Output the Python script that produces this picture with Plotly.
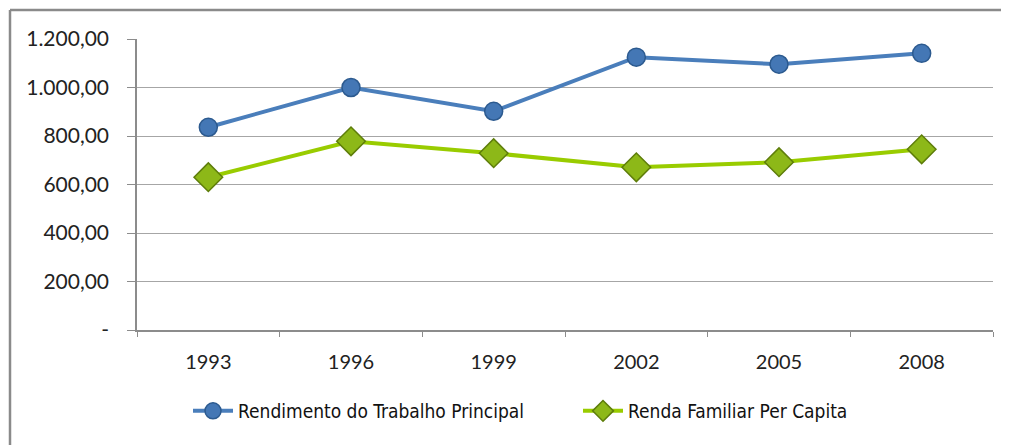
import plotly.graph_objects as go

years = ["1993", "1996", "1999", "2002", "2005", "2008"]
rendimento = [836, 1000, 902, 1125, 1096, 1141]
renda_pc = [630, 778, 729, 671, 692, 745]
y_tickvals = [0, 200, 400, 600, 800, 1000, 1200]
y_ticktext = ["-", "200,00", "400,00", "600,00", "800,00", "1.000,00", "1.200,00"]

# page body has an 8px default margin; figure is placed at (8, 8)
OFF = 8
VW, VH = 1009, 445
W, H = VW - OFF, VH - OFF
PL, PR, PT, PB = 137, 993, 39, 330   # plot area in page pixels
L, R, T, B = PL - OFF, VW - PR, PT - OFF, VH - PB
pw, ph = PR - PL, PB - PT

def px2x(px):
    return (px - PL) / pw

def py2y(py):
    return (PB - py) / ph

LEG_FONT = "Liberation Sans Narrow, DejaVu Sans Condensed, sans-serif"
TICK_FONT = "Lato, sans-serif"

fig = go.Figure()
fig.add_trace(go.Scatter(
    x=years, y=rendimento, mode="lines+markers",
    name="Rendimento do Trabalho Principal",
    line=dict(color="#4A7EBB", width=4),
    marker=dict(symbol="circle", size=18, color="#4477B5",
                line=dict(color="#2C5A8F", width=1.5)),
))
fig.add_trace(go.Scatter(
    x=years, y=renda_pc, mode="lines+markers",
    name="Renda Familiar Per Capita",
    line=dict(color="#99CC00", width=4),
    marker=dict(symbol="diamond", size=22, color="#8DB818",
                line=dict(color="#5E7D0A", width=1.5)),
))

fig.update_layout(
    width=W, height=H,
    margin=dict(l=L, r=R, t=T, b=B),
    paper_bgcolor="white", plot_bgcolor="white",
    font=dict(family=LEG_FONT, color="#222"),
    showlegend=True,
    legend=dict(orientation="h", x=px2x(188), xanchor="left", y=py2y(411), yanchor="middle",
                font=dict(size=19, family=LEG_FONT, color="#111"),
                itemwidth=40, entrywidth=335, bgcolor="rgba(0,0,0,0)"),
    xaxis=dict(
        type="category", range=[-0.5, 5.5],
        showline=True, linecolor="#8C8C8C", linewidth=1.5,
        ticks="outside", tickson="boundaries", ticklen=5, tickcolor="#8C8C8C",
        showgrid=False, tickfont=dict(size=20, family=TICK_FONT, color="#222"),
        ticklabelstandoff=13,
    ),
    yaxis=dict(
        range=[0, 1200], tickvals=y_tickvals, ticktext=y_ticktext,
        showline=True, linecolor="#8C8C8C", linewidth=1.5,
        ticks="outside", ticklen=8, tickcolor="#8C8C8C",
        showgrid=True, gridcolor="#A6A6A6", gridwidth=1.2,
        zeroline=False,
        tickfont=dict(size=21, family=TICK_FONT, color="#222"),
        ticklabelstandoff=14,
    ),
    shapes=[
        dict(type="line", xref="paper", yref="paper",
             x0=px2x(10), x1=px2x(1015), y0=py2y(10), y1=py2y(10),
             line=dict(color="#8A8A8A", width=2.5)),
        dict(type="line", xref="paper", yref="paper",
             x0=px2x(10), x1=px2x(10), y0=py2y(10), y1=py2y(450),
             line=dict(color="#8A8A8A", width=2.5)),
    ],
)

fig.write_html("out.html")
